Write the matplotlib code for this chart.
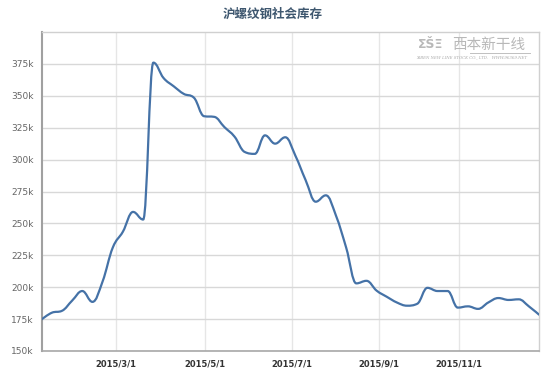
import numpy as np
import matplotlib
matplotlib.use("Agg")
import matplotlib.pyplot as plt
from matplotlib.path import Path
from matplotlib.patches import PathPatch

# ---- data (weekly points, 2015) ----
values_k = [174.8, 180.0, 181.5, 189.5, 197.0, 188.5, 204.5, 231.0, 243.5, 259.0,
            253.0, 376.0, 364.0, 357.5, 351.5, 348.5, 334.0, 333.5, 325.5, 318.0,
            306.0, 304.5, 319.0, 312.5, 317.5, 303.0, 284.0, 267.0, 272.0, 256.0,
            231.0, 203.0, 205.0, 197.3, 192.5, 188.0, 185.5, 187.0, 199.5, 197.0,
            197.0, 184.0, 185.0, 183.0, 188.0, 191.5, 190.0, 190.5, 185.0, 178.5]
tick_labels = ["2015/3/1", "2015/5/1", "2015/7/1", "2015/9/1", "2015/11/1"]
tick_index = [7.32, 16.09, 24.63, 33.23, 41.11]   # ordinal (point-index) positions of the dates
y_ticks_k = [150, 175, 200, 225, 250, 275, 300, 325, 350, 375]
title = "沪螺纹钢社会库存"

# ---- Highcharts-like spline ----
def spline_path(xs, ys, smoothing=1.5):
    n = len(xs)
    denom = smoothing + 1
    lc = [(x, y) for x, y in zip(xs, ys)]
    rc = [(x, y) for x, y in zip(xs, ys)]
    for i in range(1, n - 1):
        x, y = xs[i], ys[i]
        lx, ly = xs[i - 1], ys[i - 1]
        nx, ny = xs[i + 1], ys[i + 1]
        lcx = (smoothing * x + lx) / denom
        lcy = (smoothing * y + ly) / denom
        rcx = (smoothing * x + nx) / denom
        rcy = (smoothing * y + ny) / denom
        if rcx != lcx:
            corr = ((rcy - lcy) * (rcx - x)) / (rcx - lcx) + y - rcy
            lcy += corr
            rcy += corr
        if lcy > ly and lcy > y:
            lcy = max(ly, y)
            rcy = 2 * y - lcy
        elif lcy < ly and lcy < y:
            lcy = min(ly, y)
            rcy = 2 * y - lcy
        if rcy > ny and rcy > y:
            rcy = max(ny, y)
            lcy = 2 * y - rcy
        elif rcy < ny and rcy < y:
            rcy = min(ny, y)
            lcy = 2 * y - rcy
        lc[i] = (lcx, lcy)
        rc[i] = (rcx, rcy)
    verts = [(xs[0], ys[0])]
    codes = [Path.MOVETO]
    for i in range(1, n):
        verts += [rc[i - 1], lc[i], (xs[i], ys[i])]
        codes += [Path.CURVE4] * 3
    return Path(verts, codes)

W, H = 546, 377
fig = plt.figure(figsize=(W / 100, H / 100), dpi=100)
fig.patch.set_facecolor("white")
ax = fig.add_axes([41.7 / W, 1 - 351 / H, (539 - 41.7) / W, (351 - 32) / H])

xs = np.arange(len(values_k), dtype=float)
ys = np.array(values_k) * 1000
path = spline_path(list(xs), list(ys))
ax.add_patch(PathPatch(path, facecolor="none", edgecolor="#4572A7", lw=1.6,
                       capstyle="round", joinstyle="round", zorder=3))

ax.set_xlim(xs[0], xs[-1])
ax.set_ylim(150000, 400000)
ax.set_yticks([v * 1000 for v in y_ticks_k])
ax.set_yticklabels([f"{v}k" for v in y_ticks_k], fontsize=6.5, color="#666666",
                   family="DejaVu Sans")
ax.set_xticks(tick_index)
ax.set_xticklabels(tick_labels, fontsize=6, color="#333333", fontweight="bold",
                   family="DejaVu Sans")
ax.tick_params(axis="y", length=0, pad=6)
ax.tick_params(axis="x", length=0, pad=6)

ax.grid(axis="y", color="#D8D8D8", lw=1.0, zorder=0)
ax.grid(axis="x", color="#E6E6E6", lw=1.0, zorder=0)
ax.set_axisbelow(True)
for side in ["top", "right"]:
    ax.spines[side].set_color("#D0D0D0")
    ax.spines[side].set_linewidth(1.0)
ax.spines["left"].set_color("#A0A0A0")
ax.spines["left"].set_linewidth(1.5)
ax.spines["bottom"].set_color("#A8A8A8")
ax.spines["bottom"].set_linewidth(1.2)

fig.text(0.5, 1 - 14 / H, title, ha="center", va="center", fontsize=9,
         color="#3E576F", fontweight="bold",
         family=["Noto Sans CJK SC", "DejaVu Sans"])

# watermark
fig.text(452 / W, 1 - 45 / H, "西本新干线", ha="left", va="center", fontsize=10.5,
         color="#B8B8B8", style="italic", family=["Noto Sans CJK SC", "DejaVu Sans"])
fig.text(418 / W, 1 - 45 / H, "ΣŠΞ", ha="left", va="center", fontsize=9,
         color="#B8B8B8", fontweight="bold", family="DejaVu Sans")
fig.lines.append(plt.Line2D([470 / W, 530 / W], [1 - 53 / H, 1 - 53 / H],
                            transform=fig.transFigure, color="#C0C0C0", lw=0.7))
fig.text(416 / W, 1 - 57 / H, "XIBEN NEW LINE STOCK CO., LTD.   WWW.96369.NET",
         ha="left", va="center", fontsize=2.8, color="#A8A8A8", style="italic",
         family="DejaVu Serif")

fig.savefig("out.png", dpi=100, facecolor="white")
